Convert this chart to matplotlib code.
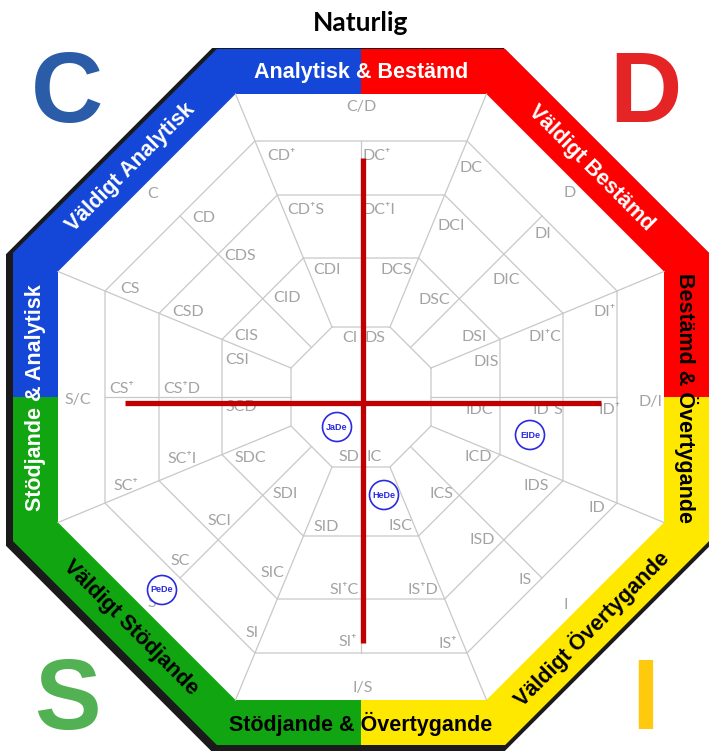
import matplotlib.pyplot as plt
import numpy as np
from matplotlib.patches import Polygon, Rectangle, Circle

# centrum och ringar (pixlar)
CX, CY = 361, 397
ring_apothems = [70, 139, 202, 256, 303]
band_outer = 348

# kvadranter: färg i bandet
quad_colors = {'C': '#1446d8', 'D': '#ff0000', 'I': '#ffe800', 'S': '#12a512'}

# texter i bandet: (text, vinkel i grader, rotation, färg)
band_texts = [
    ('Analytisk & Bestämd', 90, 0, 'white'),
    ('Väldigt Bestämd', 45, -45, 'white'),
    ('Bestämd & Övertygande', 0, -90, 'black'),
    ('Väldigt Övertygande', -45, 45, 'black'),
    ('Stödjande & Övertygande', -90, 0, 'black'),
    ('Väldigt Stödjande', -135, -45, 'black'),
    ('Stödjande & Analytisk', 180, 90, 'white'),
    ('Väldigt Analytisk', 135, 45, 'white'),
]

# cellernas etiketter
cell_labels = ['C/D', 'CD⁺', 'DC⁺', 'DC', 'D', 'CD⁺S', 'DC⁺I', 'DCI', 'DI',
               'C', 'CD', 'CDS', 'CDI', 'DCS', 'DIC', 'CS', 'CSD', 'CID', 'DSC', 'DI⁺',
               'CIS', 'CI', 'DS', 'DSI', 'DI⁺C', 'CSI', 'DIS', 'S/C', 'CS⁺', 'CS⁺D',
               'SCD', 'IDC', 'ID⁺S', 'ID⁺', 'D/I', 'SC⁺I', 'SDC', 'SD', 'IC', 'ICD',
               'SC⁺', 'SDI', 'ICS', 'IDS', 'ID', 'SCI', 'SID', 'ISC', 'ISD', 'SC', 'SIC',
               'SI⁺C', 'IS⁺D', 'IS', 'S', 'I', 'SI', 'SI⁺', 'IS⁺', 'I/S']
cell_x = [361, 281, 377, 471, 570, 306, 379, 451, 543,
          153, 204, 240, 327, 396, 506, 130, 188, 287, 434, 605,
          246, 350, 375, 474, 545, 237, 486, 78, 122, 182,
          241, 479, 548, 610, 651, 182, 250, 349, 374, 478,
          126, 285, 441, 536, 597, 219, 326, 400, 482, 180, 272,
          344, 423, 525, 152, 566, 252, 348, 448, 363]
cell_y = [107, 156, 156, 168, 193, 210, 210, 226, 234,
          194, 218, 256, 270, 270, 280, 289, 312, 298, 300, 312,
          336, 338, 338, 337, 337, 360, 362, 400, 389, 389,
          407, 410, 410, 410, 402, 459, 458, 457, 457, 457,
          486, 494, 494, 486, 508, 521, 527, 526, 540, 561, 573,
          590, 590, 580, 603, 605, 633, 642, 644, 688]

# profilkorset
cross_x, cross_y0, cross_y1 = 363, 158, 643
cross_y, cross_x0, cross_x1 = 403, 125, 601

# personer
people = ['JaDe', 'HeDe', 'EIDe', 'PeDe']
people_x = [337, 384, 530, 162]
people_y = [427, 495, 435, 590]


def octagon(a, cx=CX, cy=CY):
    R = a / np.cos(np.pi / 8)
    ang = np.deg2rad(22.5 + 45 * np.arange(8))
    return np.column_stack([cx + R * np.cos(ang), cy - R * np.sin(ang)])


fig = plt.figure(figsize=(7.09, 7.51), dpi=100)
ax = fig.add_axes([0, 0, 1, 1])
ax.set_xlim(0, 709)
ax.set_ylim(751, 0)
ax.axis('off')

# svart kant + färgat band
ax.add_patch(Polygon(octagon(352, 358, 400), closed=True, fc='#1a1a1a', ec='none'))
outer = Polygon(octagon(band_outer), closed=True, fc='none', ec='none')
ax.add_patch(outer)
quads = [('C', 0, 0), ('D', CX, 0), ('S', 0, CY), ('I', CX, CY)]
for k, x0, y0 in quads:
    r = Rectangle((x0, y0), 709 if x0 else CX, 751 if y0 else CY, fc=quad_colors[k], ec='none')
    ax.add_patch(r)
    r.set_clip_path(outer)
ax.add_patch(Polygon(octagon(303), closed=True, fc='white', ec='none', zorder=2))

# gråa linjer
grid_kw = dict(color='#c8c8c8', lw=0.9, zorder=3)
for a in ring_apothems[:-1]:
    p = octagon(a)
    p = np.vstack([p, p[:1]])
    ax.plot(p[:, 0], p[:, 1], **grid_kw)
for k in range(8):
    t = np.deg2rad(22.5 + 45 * k)
    r0 = ring_apothems[0] / np.cos(np.pi / 8)
    r1 = ring_apothems[-1] / np.cos(np.pi / 8)
    ax.plot([CX + r0 * np.cos(t), CX + r1 * np.cos(t)],
            [CY - r0 * np.sin(t), CY - r1 * np.sin(t)], **grid_kw)
    t = np.deg2rad(45 * k)
    r0, r1 = ring_apothems[0], ring_apothems[-2]
    ax.plot([CX + r0 * np.cos(t), CX + r1 * np.cos(t)],
            [CY - r0 * np.sin(t), CY - r1 * np.sin(t)], **grid_kw)

for lab, x, y in zip(cell_labels, cell_x, cell_y):
    ax.text(x, y, lab, ha='center', va='center', fontsize=11.5, color='#a3a3a3',
            family=['Lato', 'DejaVu Sans'], zorder=4)

# bandtexter
rm = (303 + band_outer) / 2
for txt, ang, rot, col in band_texts:
    t = np.deg2rad(ang)
    ax.text(CX + rm * np.cos(t), CY - rm * np.sin(t) + 1, txt, ha='center', va='center',
            rotation=rot, rotation_mode='anchor', fontsize=15.5, fontweight='bold',
            color=col, family='Liberation Sans', zorder=5)

# röda korset
ax.plot([cross_x, cross_x], [cross_y0, cross_y1], color='#c00000', lw=3.8,
        solid_capstyle='butt', zorder=6)
ax.plot([cross_x0, cross_x1], [cross_y, cross_y], color='#c00000', lw=3.8,
        solid_capstyle='butt', zorder=6)

# personer
for name, x, y in zip(people, people_x, people_y):
    ax.add_patch(Circle((x, y), 14.5, fc='white', ec='#2a2ae0', lw=1.2, zorder=7))
    ax.text(x, y, name, ha='center', va='center', fontsize=6.5, fontweight='bold',
            color='#2a2ae0', family='Liberation Sans', zorder=8)

# stora bokstäver
big = [('C', 67, 86, '#2b5ca8'), ('D', 645, 86, '#e52426'),
       ('S', 67, 693, '#52b152'), ('I', 645, 693, '#ffc90e')]
for ch, x, y, col in big:
    ax.text(x, y + 10, ch, ha='center', va='center', fontsize=72, fontweight='bold',
            color=col, family='Liberation Sans', zorder=5)

ax.text(CX, 23, 'Naturlig', ha='center', va='center', fontsize=19, fontweight='bold',
        family='Lato', color='black')

fig.savefig('out.png', dpi=100)
